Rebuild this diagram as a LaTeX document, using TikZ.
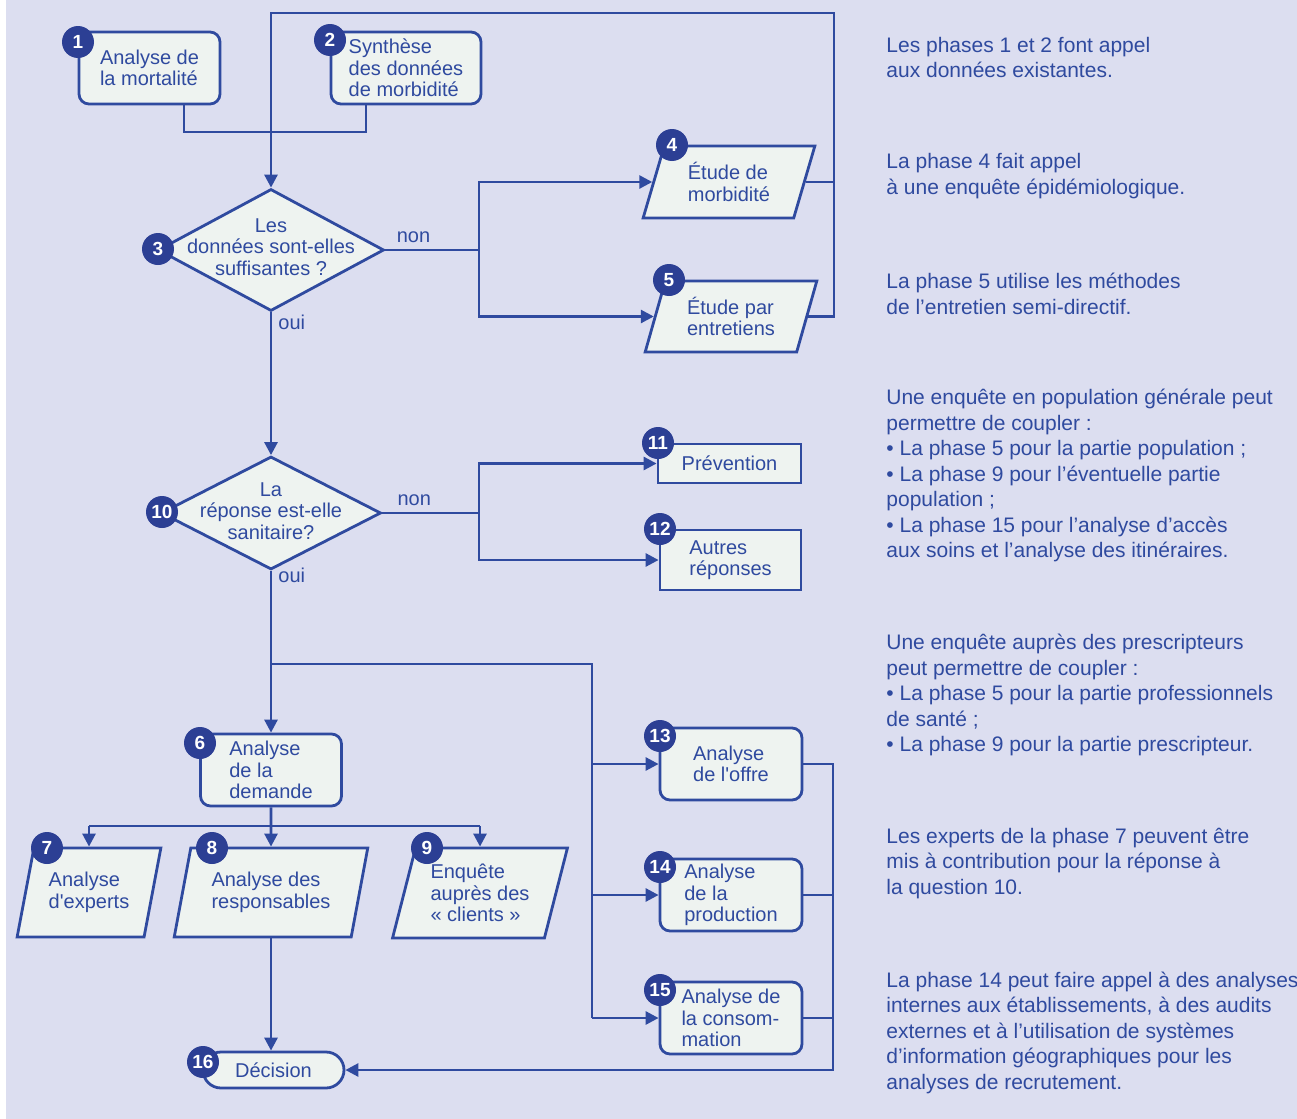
\documentclass[tikz,border=0pt]{standalone}
\usepackage{fontspec}
\setmainfont{Liberation Sans}
\usetikzlibrary{arrows.meta,shapes.geometric}
\definecolor{bgblue}{RGB}{220,222,240}
\definecolor{boxfill}{RGB}{238,243,240}
\definecolor{lineblue}{RGB}{47,74,159}
\definecolor{badgeblue}{RGB}{44,63,148}

\begin{document}
\begin{tikzpicture}[
  x=0.5pt, y=-0.5pt,
  every node/.style={text=lineblue},
  boxfont/.style={font=\fontsize{10}{10.75}\selectfont},
  phase/.style={boxfont,draw=lineblue,line width=1.4pt,fill=boxfill,align=left,inner sep=0pt,rounded corners=5pt},
  sharp/.style={phase,sharp corners},
  slanted/.style={phase,sharp corners,trapezium,trapezium left angle=71,trapezium right angle=109,trapezium stretches=true},
  question/.style={draw=lineblue,line width=1.4pt,fill=boxfill,diamond,inner sep=0pt},
  qtext/.style={boxfont,align=center},
  badge/.style={circle,fill=badgeblue,text=white,font=\bfseries\fontsize{9.5}{10}\selectfont,inner sep=0pt,minimum size=16pt},
  note/.style={anchor=west,align=left,inner sep=0pt,font=\fontsize{10.5}{12.75}\selectfont},
  wire/.style={draw=lineblue,line width=1.4pt},
  flow/.style={wire,-{Triangle[length=6.5pt,width=6.5pt]}},
  lbl/.style={boxfont,inner sep=3pt}]

  \useasboundingbox (0,0) rectangle (1297,1119);
  \fill[bgblue] (6,0) rectangle (1297,1119);

  % Phases and questions
  \node[phase,minimum width=70.5pt,minimum height=36pt] (p1) at (149.5,68) {Analyse de\\la mortalité};
  \node[phase,minimum width=75pt,minimum height=36pt] (p2) at (406,68) {Synthèse\\des données\\de morbidité};
  \node[question,minimum width=113pt,minimum height=61pt] (q3) at (271,250) {};
  \node[qtext] (t3) at (271,247) {Les\\données sont-elles\\suffisantes ?};
  \node[slanted,minimum width=86pt,minimum height=36pt] (p4) at (729,182) {Étude de\\morbidité};
  \node[slanted,minimum width=86pt,minimum height=35.5pt] (p5) at (731,316.5) {Étude par\\entretiens};
  \node[question,minimum width=110pt,minimum height=56.5pt] (q10) at (271,513) {};
  \node[qtext] (t10) at (271,511) {La\\réponse est-elle\\sanitaire?};
  \node[sharp,minimum width=71.5pt,minimum height=19.5pt] (p11) at (729.5,463.5) {Prévention};
  \node[sharp,minimum width=70.5pt,minimum height=30pt] (p12) at (730.5,560) {Autres\\réponses};
  \node[phase,minimum width=70.5pt,minimum height=36pt] (p6) at (271,770) {Analyse\\de la\\demande};
  \node[slanted,trapezium left angle=73,trapezium right angle=107,minimum width=72pt,minimum height=44.5pt] (p7) at (89,892.5) {Analyse\\d\textquotesingle experts};
  \node[slanted,trapezium left angle=73,trapezium right angle=107,minimum width=97pt,minimum height=44.5pt] (p8) at (271,892.5) {Analyse des\\responsables};
  \node[slanted,trapezium left angle=73,trapezium right angle=107,minimum width=88pt,minimum height=45pt] (p9) at (480,893) {Enquête\\auprès des\\«~clients~»};
  \node[phase,minimum width=71pt,minimum height=36pt] (p13) at (731,764) {Analyse\\de l\textquotesingle offre};
  \node[phase,minimum width=71pt,minimum height=36pt] (p14) at (731,895) {Analyse\\de la\\production};
  \node[phase,minimum width=71pt,minimum height=36pt] (p15) at (731,1018) {Analyse de\\la consom-\\mation};
  \node[phase,rounded corners=9pt,minimum width=70.5pt,minimum height=18pt] (p16) at (273.5,1070) {Décision};

  % Connectors
  \coordinate (j12) at (271,132);
  \draw[wire] ([xshift=17.25pt]p1.south) |- (j12);
  \draw[wire] ([xshift=-20pt]p2.south) |- (j12);

  \coordinate (loop) at (834,13);
  \draw[flow] (p5.east) -| (loop) -| (q3.north);
  \draw[wire] (p4.east) -- (p4.east -| loop);

  \coordinate (s3) at (479,250);
  \draw[wire] (q3.east) -- node[lbl,pos=0.3,above] {non} (s3);
  \draw[flow] (s3) |- (p4.west);
  \draw[flow] (s3) |- (p5.west);

  \draw[flow] (q3.south) -- node[lbl,pos=0.07,right] {oui} (q10.north);

  \coordinate (s10) at (479,513);
  \draw[wire] (q10.east) -- node[lbl,pos=0.33,above] {non} (s10);
  \draw[flow] (s10) |- (p11.west);
  \draw[flow] (s10) |- (p12.west);

  \draw[flow] (q10.south) -- node[lbl,pos=0.03,right] {oui} (p6.north);

  \coordinate (j6) at (271,664);
  \coordinate (r6) at (592,664);
  \draw[wire] (j6) -- (r6) -- (r6 |- p15.west);
  \draw[flow] (r6 |- p13.west) -- (p13.west);
  \draw[flow] (r6 |- p14.west) -- (p14.west);
  \draw[flow] (r6 |- p15.west) -- (p15.west);

  \coordinate (j7) at (271,826);
  \draw[flow] (p6.south) -- (p8.north);
  \draw[wire] (p7.north |- j7) -- (p9.north |- j7);
  \draw[flow] (p7.north |- j7) -- (p7.north);
  \draw[flow] (p9.north |- j7) -- (p9.north);

  \draw[flow] (p8.south) -- (p8.south |- p16.north);
  \coordinate (r13) at (833,1070);
  \draw[flow] (p13.east) -| (r13) -- (p16.east);
  \draw[wire] (p14.east) -- (p14.east -| r13);
  \draw[wire] (p15.east) -- (p15.east -| r13);

  % Phase numbers
  \node[badge] (b1) at (78,42) {1};
  \node[badge] (b2) at (330,40) {2};
  \node[badge] (b3) at (158,249) {3};
  \node[badge] (b4) at (672,145) {4};
  \node[badge] (b5) at (669,280) {5};
  \node[badge] (b6) at (200,743) {6};
  \node[badge] (b7) at (47,848) {7};
  \node[badge] (b8) at (212,848) {8};
  \node[badge] (b9) at (427,848) {9};
  \node[badge] (b10) at (162,512) {10};
  \node[badge] (b11) at (658,443) {11};
  \node[badge] (b12) at (660,529) {12};
  \node[badge] (b13) at (660,736) {13};
  \node[badge] (b14) at (660,867) {14};
  \node[badge] (b15) at (660,990) {15};
  \node[badge] (b16) at (203,1062) {16};

  % Comments on the right
  \node[note] (c1) at (886,57.5) {Les phases 1 et 2 font appel\\aux données existantes.};
  \node[note] (c2) at (886,176) {La phase 4 fait appel\\à une enquête épidémiologique.};
  \node[note] (c3) at (886,294) {La phase 5 utilise les méthodes\\de l’entretien semi-directif.};
  \node[note] (c4) at (886,475.5) {Une enquête en population générale peut\\permettre de coupler :\\• La phase 5 pour la partie population ;\\• La phase 9 pour l’éventuelle partie\\population ;\\• La phase 15 pour l’analyse d’accès\\aux soins et l’analyse des itinéraires.};
  \node[note] (c5) at (886,695) {Une enquête auprès des prescripteurs\\peut permettre de coupler :\\• La phase 5 pour la partie professionnels\\de santé ;\\• La phase 9 pour la partie prescripteur.};
  \node[note] (c6) at (886,863.5) {Les experts de la phase 7 peuvent être\\mis à contribution pour la réponse à\\la question 10.};
  \node[note] (c7) at (886,1032.5) {La phase 14 peut faire appel à des analyses\\internes aux établissements, à des audits\\externes et à l’utilisation de systèmes\\d’information géographiques pour les\\analyses de recrutement.};

\end{tikzpicture}
\end{document}
